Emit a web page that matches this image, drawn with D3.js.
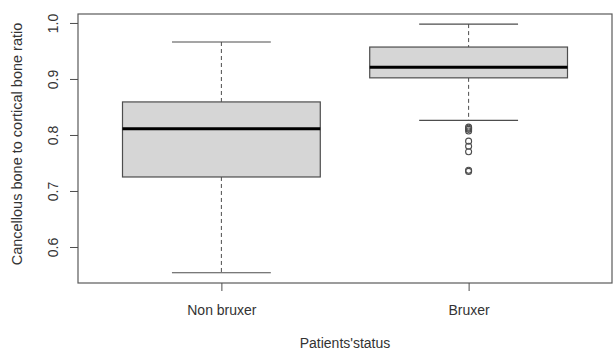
<!DOCTYPE html>
<html>
<head>
<meta charset="utf-8">
<script src="https://cdn.jsdelivr.net/npm/d3@7"></script>
<style>
  body { margin: 0; background: #fff; }
  text { font-family: Arial, "Liberation Sans", sans-serif; fill: #333; }
</style>
</head>
<body>
<div id="chart"></div>
<script>
// group labels and five-number summaries
const groups = ['Non bruxer', 'Bruxer']
const lowerWhisker = [0.554, 0.826]
const q1 = [0.725, 0.902]
const median = [0.811, 0.921]
const q3 = [0.859, 0.957]
const upperWhisker = [0.966, 0.998]
const brOutliers = [0.814, 0.812, 0.810, 0.807, 0.789, 0.780, 0.770, 0.737, 0.735]
const outliers = [[], brOutliers]
const yTicks = [0.6, 0.7, 0.8, 0.9, 1.0]

const W = 613
const H = 352
const margin = { top: 14, left: 78, right: 1, bottom: 69 }
const width = W - margin.left - margin.right
const height = H - margin.top - margin.bottom

const svg = d3
  .select('#chart')
  .append('svg')
  .attr('width', W)
  .attr('height', H)

const g = svg
  .append('g')
  .attr('transform', 'translate(' + margin.left + ',' + margin.top + ')')

const x = d3.scaleLinear().domain([0.42, 2.58]).range([0, width])
const y = d3.scaleLinear().domain([0.5357, 1.016]).range([height, 0])

const boxes = groups.map((name, i) => ({
  name,
  pos: i + 1,
  lo: lowerWhisker[i],
  q1: q1[i],
  med: median[i],
  q3: q3[i],
  hi: upperWhisker[i],
  out: outliers[i]
}))

const lineColor = '#4d4d4d'

const box = g
  .selectAll('.box')
  .data(boxes)
  .enter()
  .append('g')
  .attr('class', 'box')

// whiskers (dashed)
box.append('line')
  .attr('x1', d => x(d.pos)).attr('x2', d => x(d.pos))
  .attr('y1', d => y(d.hi)).attr('y2', d => y(d.q3))
  .attr('stroke', lineColor).attr('stroke-dasharray', '4,3')
box.append('line')
  .attr('x1', d => x(d.pos)).attr('x2', d => x(d.pos))
  .attr('y1', d => y(d.q1)).attr('y2', d => y(d.lo))
  .attr('stroke', lineColor).attr('stroke-dasharray', '4,3')

// caps
box.append('line')
  .attr('x1', d => x(d.pos - 0.2)).attr('x2', d => x(d.pos + 0.2))
  .attr('y1', d => y(d.hi)).attr('y2', d => y(d.hi))
  .attr('stroke', lineColor).attr('stroke-width', 1.2)
box.append('line')
  .attr('x1', d => x(d.pos - 0.2)).attr('x2', d => x(d.pos + 0.2))
  .attr('y1', d => y(d.lo)).attr('y2', d => y(d.lo))
  .attr('stroke', lineColor).attr('stroke-width', 1.2)

// box
box.append('rect')
  .attr('x', d => x(d.pos - 0.4))
  .attr('width', d => x(d.pos + 0.4) - x(d.pos - 0.4))
  .attr('y', d => y(d.q3))
  .attr('height', d => y(d.q1) - y(d.q3))
  .attr('fill', '#d6d6d6')
  .attr('stroke', lineColor)
  .attr('stroke-width', 1.2)

// median
box.append('line')
  .attr('x1', d => x(d.pos - 0.4)).attr('x2', d => x(d.pos + 0.4))
  .attr('y1', d => y(d.med)).attr('y2', d => y(d.med))
  .attr('stroke', '#000').attr('stroke-width', 3)

// outliers
box.selectAll('circle')
  .data(d => d.out.map(v => ({ pos: d.pos, v })))
  .enter()
  .append('circle')
  .attr('cx', d => x(d.pos))
  .attr('cy', d => y(d.v))
  .attr('r', 3)
  .attr('fill', 'none')
  .attr('stroke', lineColor)
  .attr('stroke-width', 1.1)

// frame
g.append('rect')
  .attr('width', width)
  .attr('height', height)
  .attr('fill', 'none')
  .attr('stroke', '#5a5a5a')
  .attr('stroke-width', 1.2)

// y axis
const yAxis = d3.axisLeft(y).tickValues(yTicks).tickFormat(d3.format('.1f')).tickSize(8).tickPadding(8)
const yG = g.append('g').attr('class', 'axis y-axis').call(yAxis)
yG.select('.domain').remove()
yG.selectAll('line').attr('stroke', lineColor)
yG.selectAll('text')
  .attr('font-size', 14)
  .attr('transform', 'rotate(-90)')
  .attr('x', 0)
  .attr('dy', 0)
  .attr('y', -24)
  .attr('text-anchor', 'middle')
  .attr('dominant-baseline', 'middle')
  .style('fill', '#333')

// x axis
const xAxis = d3.axisBottom(x).tickValues(boxes.map(d => d.pos)).tickFormat((d, i) => groups[i]).tickSize(8).tickPadding(14)
const xG = g.append('g').attr('class', 'axis x-axis').attr('transform', 'translate(0,' + height + ')').call(xAxis)
xG.select('.domain').remove()
xG.selectAll('line').attr('stroke', lineColor)
xG.selectAll('text').attr('font-size', 14).style('fill', '#333')

// axis titles
svg.append('text')
  .attr('x', margin.left + width / 2)
  .attr('y', 348)
  .attr('text-anchor', 'middle')
  .attr('font-size', 14)
  .text("Patients'status")

svg.append('text')
  .attr('transform', 'translate(22,' + (margin.top + 130) + ') rotate(-90)')
  .attr('text-anchor', 'middle')
  .attr('font-size', 14.5)
  .text('Cancellous bone to cortical bone ratio')
</script>
</body>
</html>
